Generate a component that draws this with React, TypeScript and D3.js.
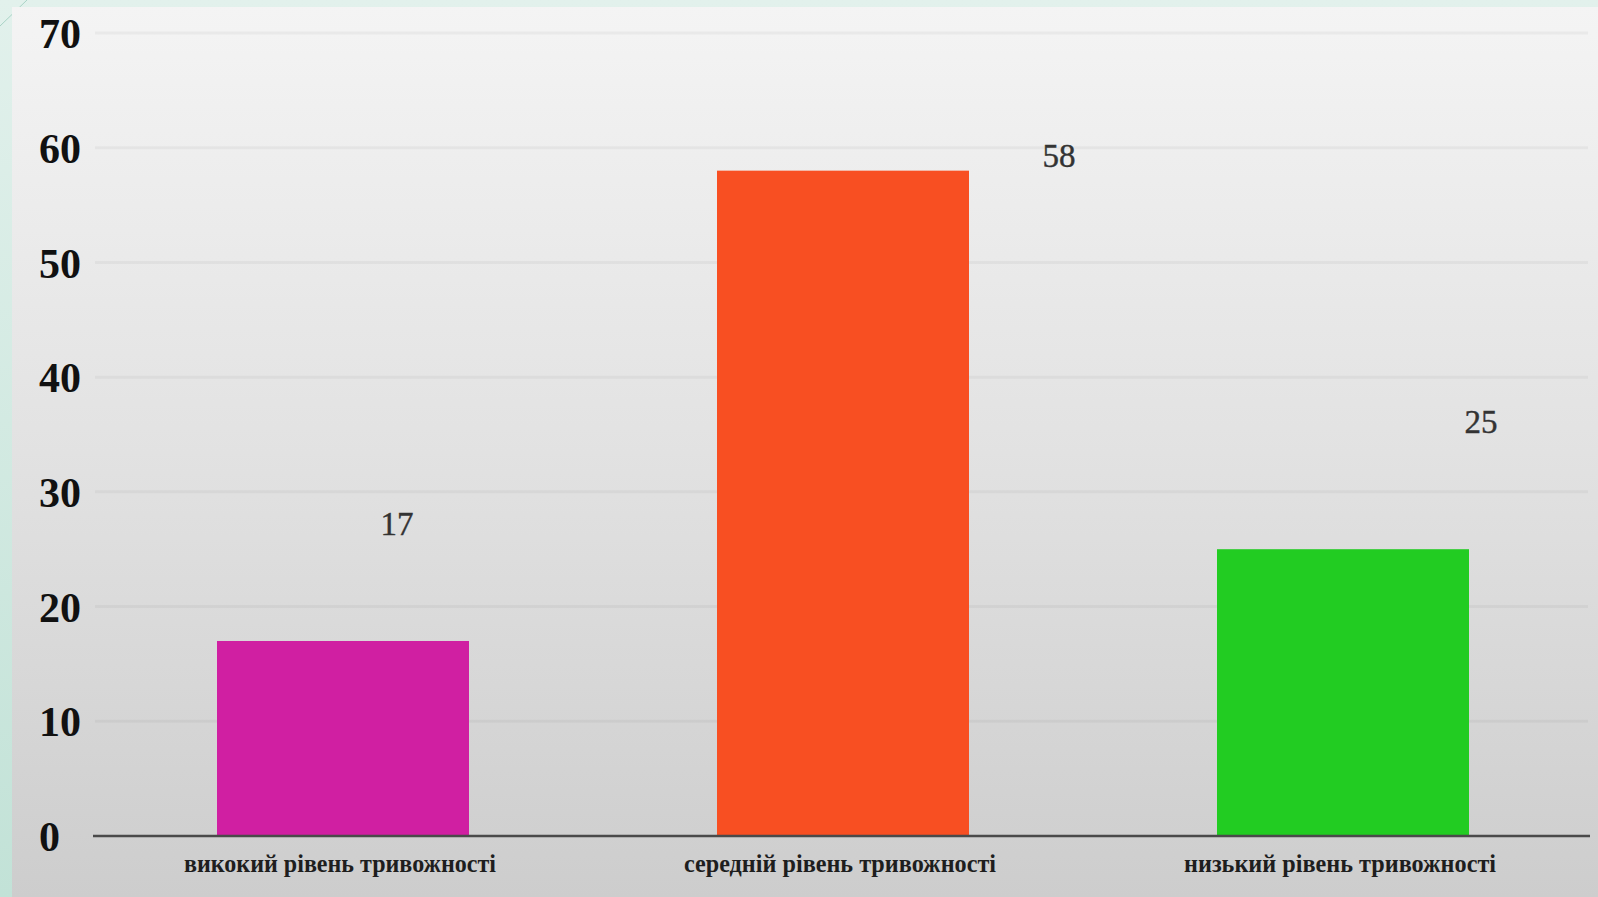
import React from "react";
import * as d3 from "d3";

const categories = [
  "викокий рівень тривожності",
  "середній рівень тривожності",
  "низький рівень тривожності",
];
const values = [17, 58, 25];
const barColors = ["#d01fa2", "#f84f22", "#22cc22"];
const yTicks = [0, 10, 20, 30, 40, 50, 60, 70];
// value-label anchors: horizontal shift (fraction of band step) and level (data units)
const labelShift = [0.108, 0.432, 0.276];
const labelLevel = [26.2, 58.3, 35.1];

const W = 1598;
const H = 897;

export default function App() {
  const x = d3
    .scaleBand<string>()
    .domain(categories)
    .range([93, 1593])
    .paddingInner(0.496)
    .paddingOuter(0.248);
  const y = d3.scaleLinear().domain([0, 70]).range([836, 33]);
  const step = x.step();

  return (
    <svg
      width={W}
      height={H}
      style={{ position: "absolute", left: 0, top: 0, display: "block" }}
    >
      <defs>
        <linearGradient id="panel" x1="0" y1="0" x2="0" y2="1">
          <stop offset="0" stopColor="#f4f4f4" />
          <stop offset="0.5" stopColor="#e2e2e2" />
          <stop offset="1" stopColor="#cdcdcd" />
        </linearGradient>
        <linearGradient id="mint" x1="0" y1="0" x2="0" y2="1">
          <stop offset="0" stopColor="#e2f1ec" />
          <stop offset="1" stopColor="#c2e2d7" />
        </linearGradient>
      </defs>
      <rect x={0} y={0} width={W} height={H} fill="url(#mint)" />
      <line x1={0} y1={26} x2={27} y2={0} stroke="#a9d3c6" strokeWidth={1} />
      <rect x={12} y={7} width={W - 12} height={H - 7} fill="url(#panel)" />

      {yTicks.slice(1).map((t) => (
        <line
          key={"g" + t}
          x1={95}
          x2={1588}
          y1={y(t)}
          y2={y(t)}
          stroke="#000"
          strokeOpacity={0.04}
          strokeWidth={3}
        />
      ))}

      {yTicks.map((t) => (
        <text
          key={"t" + t}
          x={39}
          y={y(t)}
          dy="0.36em"
          fontFamily="'Liberation Serif', 'Times New Roman', serif"
          fontWeight="bold"
          fontSize={42}
          fill="#111"
        >
          {t}
        </text>
      ))}

      {categories.map((c, i) => (
        <rect
          key={"b" + c}
          x={x(c)}
          y={y(values[i])}
          width={x.bandwidth()}
          height={y(0) - y(values[i])}
          fill={barColors[i]}
        />
      ))}

      <line x1={93} x2={1590} y1={y(0)} y2={y(0)} stroke="#4a4a4a" strokeWidth={2.5} />

      {categories.map((c, i) => (
        <text
          key={"v" + c}
          x={(x(c) as number) + x.bandwidth() / 2 + labelShift[i] * step}
          y={y(labelLevel[i])}
          textAnchor="middle"
          fontFamily="'Liberation Serif', 'Times New Roman', serif"
          fontSize={33}
          fill="#333"
          stroke="#333"
          strokeWidth={0.4}
        >
          {values[i]}
        </text>
      ))}

      {categories.map((c) => (
        <text
          key={"c" + c}
          x={(x(c) as number) + x.bandwidth() / 2 - 3}
          y={872}
          textAnchor="middle"
          fontFamily="'Liberation Serif', 'Times New Roman', serif"
          fontWeight="bold"
          fontSize={26}
          fill="#1e1e1e"
          textLength={312}
          lengthAdjust="spacingAndGlyphs"
        >
          {c}
        </text>
      ))}
    </svg>
  );
}
